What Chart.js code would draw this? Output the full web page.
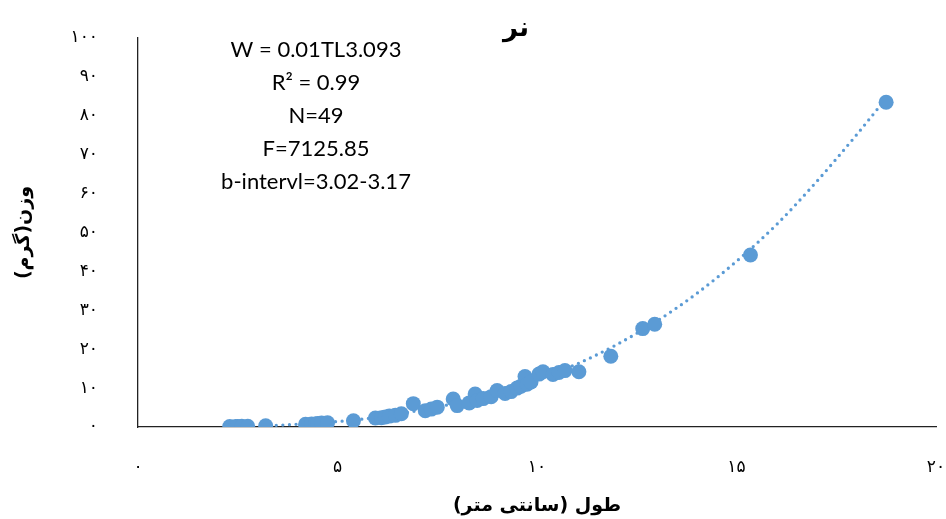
<!DOCTYPE html>
<html lang="fa">
<head>
    <meta charset="UTF-8">
    <title>نر</title>
    <script src="https://cdn.jsdelivr.net/npm/chart.js"></script>
    <style>
        body {
            margin: 0;
            background-color: white;
        }
        .chart-box {
            width: 946px;
            height: 519px;
        }
    </style>
</head>
<body>
    <div class="chart-box">
        <canvas id="weightChart" dir="rtl"></canvas>
    </div>

    <script>
        // طول (سانتی متر)
        const lengths = [
            2.3, 2.45, 2.5, 2.6, 2.75, 3.2, 4.2, 4.35, 4.45, 4.5,
            4.6, 4.75, 5.4, 5.95, 6.1, 6.2, 6.3, 6.45, 6.6, 6.9,
            7.2, 7.35, 7.5, 7.9, 8.0, 8.3, 8.45, 8.5, 8.65, 8.85,
            9.0, 9.2, 9.35, 9.5, 9.6, 9.7, 9.75, 9.85, 10.05, 10.15,
            10.4, 10.55, 10.7, 11.05, 11.85, 12.65, 12.95, 15.35, 18.75
        ];
        // وزن (گرم)
        const weights = [
            0.1, 0.1, 0.1, 0.2, 0.2, 0.3, 0.7, 0.8, 0.8, 0.9,
            1.0, 1.1, 1.6, 2.3, 2.4, 2.6, 2.8, 3.0, 3.4, 6.0,
            4.2, 4.6, 5.1, 7.2, 5.5, 6.2, 8.5, 6.8, 7.3, 7.8,
            9.4, 8.6, 9.1, 10.0, 10.5, 13.0, 11.0, 11.6, 13.6, 14.2,
            13.5, 14.0, 14.5, 14.2, 18.2, 25.3, 26.4, 44.2, 83.5
        ];

        // خط روند (خوانده شده از تصویر)
        const trendLengths = [3.3, 4, 5, 6, 7, 8, 9, 10, 11, 12, 13, 14, 15, 16, 17, 18, 18.75];
        const trendWeights = [0.35, 0.7, 1.4, 2.5, 4.2, 6.2, 8.9, 12.3, 16.2, 21.2, 27.2, 34.3, 42.6, 52, 63, 75, 84.5];

        const xTickLabels = ['۰', '۵', '۱۰', '۱۵', '۲۰'];
        const yTickLabels = ['۰', '۱۰', '۲۰', '۳۰', '۴۰', '۵۰', '۶۰', '۷۰', '۸۰', '۹۰', '۱۰۰'];

        const infoLines = ['W = 0.01TL3.093', 'R² = 0.99', 'N=49', 'F=7125.85', 'b-intervl=3.02-3.17'];
        const chartTitle = 'نر';

        const blue = '#5B9BD5';
        const persianFont = '"DejaVu Sans", sans-serif';

        // عنوان و متن معادله
        const textPlugin = {
            id: 'textPlugin',
            afterDraw(chart) {
                const ctx = chart.ctx;
                ctx.save();
                ctx.fillStyle = '#000';
                ctx.textAlign = 'center';
                ctx.textBaseline = 'middle';

                ctx.direction = 'rtl';
                ctx.font = 'bold 26px ' + persianFont;
                ctx.fillText(chartTitle, 516, 29);

                ctx.direction = 'ltr';
                ctx.font = '22px Lato, sans-serif';
                infoLines.forEach((line, i) => {
                    ctx.fillText(line, 316, 50 + i * 33);
                });
                ctx.restore();
            }
        };

        const points = lengths.map((x, i) => ({ x: x, y: weights[i] }));
        const trend = trendLengths.map((x, i) => ({ x: x, y: trendWeights[i] }));

        new Chart(document.getElementById('weightChart'), {
            type: 'scatter',
            data: {
                datasets: [
                    {
                        type: 'line',
                        data: trend,
                        borderColor: blue,
                        borderWidth: 3.3,
                        borderDash: [0, 6.6],
                        borderCapStyle: 'round',
                        cubicInterpolationMode: 'monotone',
                        pointRadius: 0,
                        fill: false,
                        order: 2
                    },
                    {
                        data: points,
                        backgroundColor: blue,
                        borderColor: blue,
                        pointRadius: 7.5,
                        borderWidth: 0,
                        order: 1
                    }
                ]
            },
            options: {
                responsive: true,
                maintainAspectRatio: false,
                animation: false,
                layout: {
                    padding: { left: 0, right: 10, top: 38, bottom: 0 }
                },
                plugins: {
                    legend: { display: false },
                    tooltip: { enabled: false }
                },
                scales: {
                    x: {
                        type: 'linear',
                        min: 0,
                        max: 20,
                        afterFit(scale) {
                            scale.height = 92;
                            scale.paddingLeft = 0;
                            scale.paddingRight = 0;
                        },
                        afterBuildTicks(scale) {
                            scale.ticks = xTickLabels.map((t, i) => ({ value: i * 5 }));
                        },
                        ticks: {
                            padding: 30,
                            maxRotation: 0,
                            color: '#000',
                            font: { family: persianFont, size: 17 },
                            callback: (v, i) => xTickLabels[i]
                        },
                        grid: { display: false, drawTicks: false },
                        border: { display: true, color: '#222', width: 1.3 },
                        title: {
                            display: true,
                            text: 'طول (سانتی متر)',
                            color: '#000',
                            font: { family: persianFont, size: 19, weight: 'bold' },
                            padding: { top: 0, bottom: 2 }
                        }
                    },
                    y: {
                        type: 'linear',
                        min: 0,
                        max: 100,
                        afterFit(scale) {
                            scale.width = 138;
                            scale.paddingTop = 0;
                            scale.paddingBottom = 0;
                        },
                        afterBuildTicks(scale) {
                            scale.ticks = yTickLabels.map((t, i) => ({ value: i * 10 }));
                        },
                        ticks: {
                            padding: 40,
                            color: '#000',
                            font: { family: persianFont, size: 17 },
                            callback: (v, i) => yTickLabels[i]
                        },
                        grid: { display: false, drawTicks: false },
                        border: { display: true, color: '#222', width: 1.3 },
                        title: {
                            display: true,
                            text: 'وزن(گرم)',
                            color: '#000',
                            font: { family: persianFont, size: 19, weight: 'bold' },
                            padding: { top: 13, bottom: 0 }
                        }
                    }
                }
            },
            plugins: [textPlugin]
        });
    </script>
</body>
</html>
